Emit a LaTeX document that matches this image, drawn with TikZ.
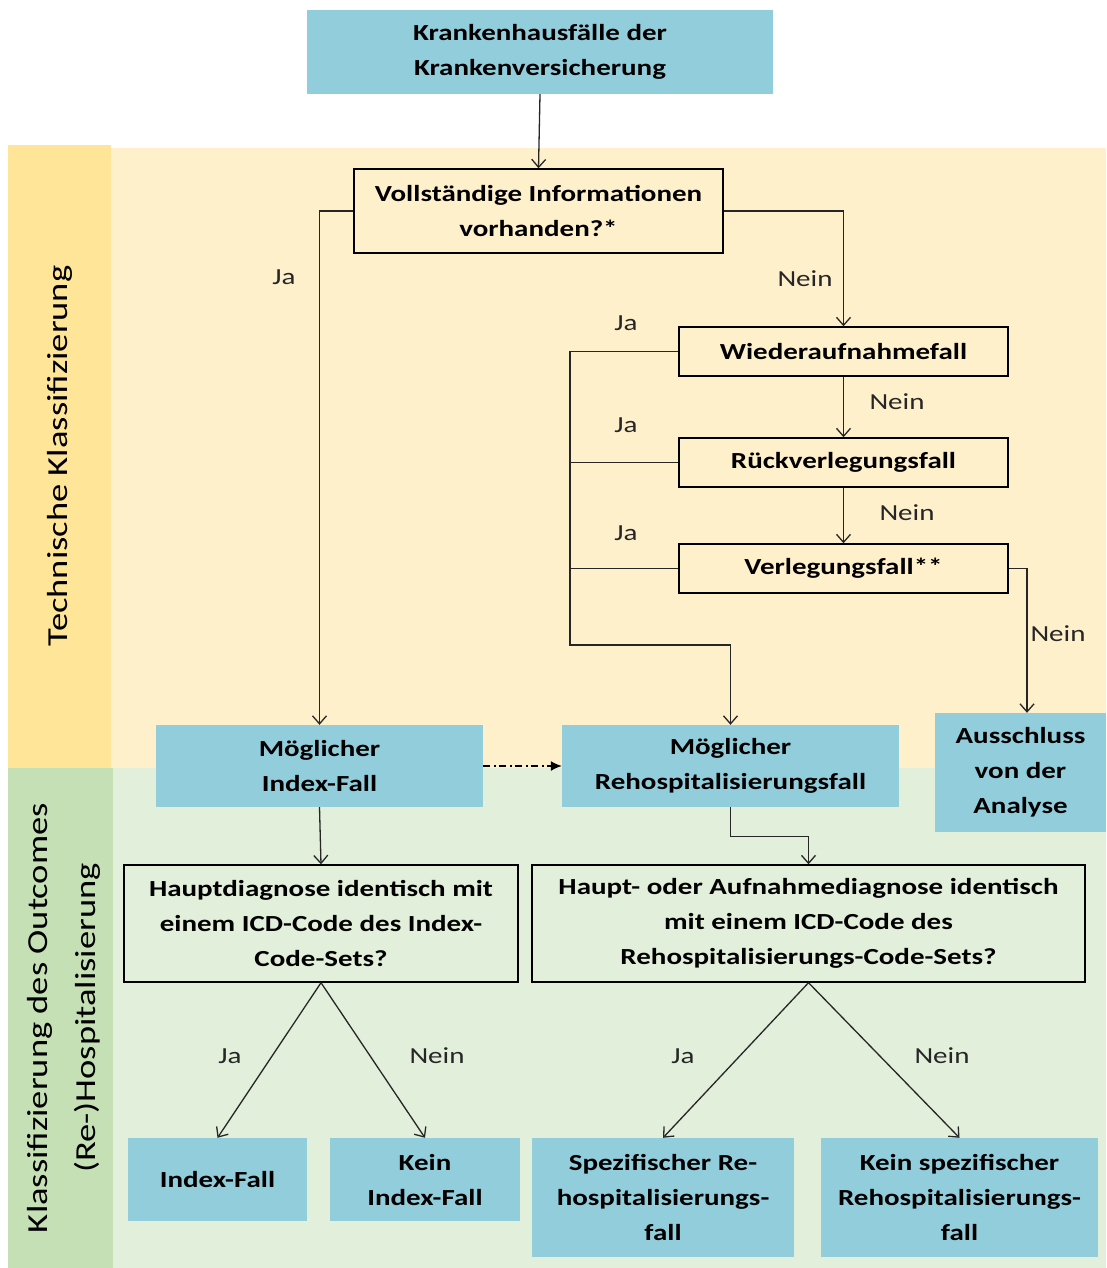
\documentclass[tikz,border=0pt]{standalone}
\usepackage{fontspec}
\setmainfont{Carlito}[FakeStretch=1.26]
\usetikzlibrary{arrows.meta}
\definecolor{boxblue}{HTML}{92CDDC}
\definecolor{yband}{HTML}{FFE597}
\definecolor{ybg}{HTML}{FFF0CC}
\definecolor{gband}{HTML}{C5E0B4}
\definecolor{gbg}{HTML}{E2EFDA}
\definecolor{lncol}{HTML}{262626}
\tikzset{
  bx/.style={draw=black, line width=1.4pt, align=center, inner sep=0pt, font=\fontsize{23}{35}\selectfont\bfseries},
  bb/.style={fill=boxblue, align=center, inner sep=0pt, font=\fontsize{23}{35}\selectfont\bfseries},
  arr/.style={draw=lncol, line width=1.3pt, -{Straight Barb[length=8pt,width=14pt,line width=1.3pt]}},
  ln/.style={draw=lncol, line width=1.3pt},
  lbl/.style={font=\fontsize{23}{28}\selectfont, text=lncol},
  side/.style={font=\fontsize{29}{48}\selectfont, align=center, rotate=90}
}
\begin{document}
\begin{tikzpicture}[x=1pt,y=-1pt]
\useasboundingbox (0,0) rectangle (1106,1268);
% backgrounds
\fill[ybg] (111,148) rectangle (1106,768);
\fill[yband] (8,145) rectangle (111,768);
\fill[gbg] (113,768) rectangle (1106,1268);
\fill[gband] (8,768) rectangle (113,1268);
\node[side] (s1) at (60,456) {Technische Klassifizierung};
\node[side] (s2) at (64,1018) {Klassifizierung des Outcomes\\(Re-)Hospitalisierung};
% nodes
\node[bb, minimum width=466, minimum height=84] (top) at (540,52) {Krankenhausfälle der\\Krankenversicherung};
\node[bx, minimum width=369, minimum height=84] (voll) at (538.5,211) {Vollständige Informationen\\vorhanden?*};
\node[bx, minimum width=329, minimum height=49] (wie) at (843.5,351.5) {Wiederaufnahmefall};
\node[bx, minimum width=329, minimum height=49] (rue) at (843.5,462.5) {Rückverlegungsfall};
\node[bx, minimum width=329, minimum height=49] (ver) at (843.5,568.5) {Verlegungsfall**};
\node[bb, minimum width=327, minimum height=82] (idx) at (319.5,766) {Möglicher\\Index-Fall};
\node[bb, minimum width=337, minimum height=82] (reho) at (730.5,766) {Möglicher\\Rehospitalisierungsfall};
\node[bb, minimum width=171, minimum height=119] (aus) at (1020.5,772.5) {Ausschluss\\von der\\Analyse};
\node[bx, minimum width=394, minimum height=117] (hd1) at (321,923.5) {Hauptdiagnose identisch mit\\einem ICD-Code des Index-\\Code-Sets?};
\node[bx, minimum width=553, minimum height=117] (hd2) at (808.5,923.5) {Haupt- oder Aufnahmediagnose identisch\\mit einem ICD-Code des\\Rehospitalisierungs-Code-Sets?};
\node[bb, minimum width=179, minimum height=83] (ix) at (217.5,1179.5) {Index-Fall};
\node[bb, minimum width=190, minimum height=83] (kix) at (425,1179.5) {Kein\\Index-Fall};
\node[bb, minimum width=262, minimum height=119] (sp) at (663,1197.5) {Spezifischer Re-\\hospitalisierungs-\\fall};
\node[bb, minimum width=277, minimum height=119] (ksp) at (959.5,1197.5) {Kein spezifischer\\Rehospitalisierungs-\\fall};
% coordinates
\coordinate (jtop) at (570,351.5);
\coordinate (jbot) at (570,645);
\coordinate (vr) at (1027,568.5);
% connectors
\draw[arr] (top.south) -- (voll.north);
\draw[arr] (voll.west) -| (idx.north);
\draw[arr] (voll.east) -| (wie.north);
\draw[arr] (wie.south) -- (rue.north);
\draw[arr] (rue.south) -- (ver.north);
\draw[arr] (wie.west) -- (jtop) -- (jbot) -| (reho.north);
\draw[ln] (rue.west) -- (rue.west -| jtop);
\draw[ln] (ver.west) -- (ver.west -| jtop);
\draw[arr] (ver.east) -- (vr) -- (vr |- aus.north);
\draw[draw=black, line width=1.3pt, dash pattern=on 7pt off 3.5pt on 2pt off 3.5pt, -{Latex[length=11pt,width=10pt]}] (idx.east) -- (reho.west);
\draw[arr] (idx.south) -- (hd1.north);
\draw[arr] (reho.south) -- ++(0,29) -| (hd2.north);
\draw[arr] (hd1.south) -- (ix.north);
\draw[arr] (hd1.south) -- (kix.north);
\draw[arr] (hd2.south) -- (sp.north);
\draw[arr] (hd2.south) -- (ksp.north);
% labels
\node[lbl] (l1) at (284,277) {Ja};
\node[lbl] (l2) at (805,279) {Nein};
\node[lbl] (l3) at (626,323) {Ja};
\node[lbl] (l4) at (897,402) {Nein};
\node[lbl] (l5) at (626,425) {Ja};
\node[lbl] (l6) at (907,513) {Nein};
\node[lbl] (l7) at (626,533) {Ja};
\node[lbl] (l8) at (1058,634) {Nein};
\node[lbl] (l9) at (230,1056) {Ja};
\node[lbl] (l10) at (437,1056) {Nein};
\node[lbl] (l11) at (683,1056) {Ja};
\node[lbl] (l12) at (942,1056) {Nein};
\end{tikzpicture}
\end{document}
